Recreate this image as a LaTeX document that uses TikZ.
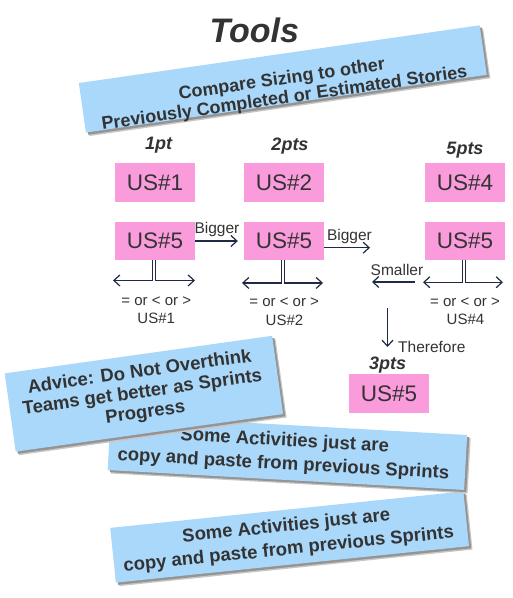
\documentclass[tikz,border=0pt]{standalone}
\usepackage{fontspec}
\setmainfont{Liberation Sans}
\usetikzlibrary{arrows.meta}
\definecolor{txt}{HTML}{333333}
\definecolor{pinkc}{HTML}{FA9BDC}
\definecolor{bluec}{HTML}{AAD8FA}
\definecolor{arrc}{HTML}{1F2A44}
\begin{document}
\begin{tikzpicture}[x=1pt,y=-1pt,
  usbox/.style={fill=pinkc, minimum width=80pt, minimum height=38.5pt, inner sep=0pt, text=txt, font=\fontsize{22.5}{24}\selectfont},
  ptlabel/.style={anchor=base, text=txt, font=\fontsize{18}{18}\selectfont\bfseries\itshape, inner sep=0pt},
  smalltext/.style={anchor=base, text=txt, font=\fontsize{15}{15}\selectfont, inner sep=0pt},
  bluebox/.style={fill=bluec, inner sep=0pt},
  shadowa/.style={fill=black!22, inner sep=0pt},
  shadowb/.style={fill=black!42, inner sep=0pt},
  bluetext/.style={text=txt, align=center, inner sep=0pt},
  arr/.style={draw=arrc, line width=1.2pt, -{Straight Barb[length=6pt,width=11pt]}},
  ln/.style={draw=arrc, line width=1.2pt},
]
\useasboundingbox[fill=white] (0,0) rectangle (513,598);

% Title
\node[anchor=base, text=txt, font=\fontsize{34}{34}\selectfont\bfseries\itshape, inner sep=0pt] (title) at (254.3,42.3) {Tools};

% Box 1
\node[shadowa, rotate=8.2, minimum width=405pt, minimum height=50pt] (s1a) at (286.3,82.4) {};
\node[shadowb, rotate=8.2, minimum width=405pt, minimum height=50pt] (s1b) at (285,81.1) {};
\node[bluebox, rotate=8.2, minimum width=405pt, minimum height=50pt] (b1) at (282.8,78.9) {};
\node[bluetext, rotate=8.2, font=\fontsize{18}{19}\selectfont\bfseries] (t1) at (283.2,89.5) {Compare Sizing to other\\Previously Completed or Estimated Stories};

% point labels
\node[ptlabel] (p1) at (158.7,149.3) {1pt};
\node[ptlabel] (p2) at (290,150) {2pts};
\node[ptlabel] (p4) at (465,154) {5pts};

% story boxes
\node[usbox] (u1) at (155,182.5) {US\#1};
\node[usbox] (u2) at (284,182.5) {US\#2};
\node[usbox] (u4) at (465,182.5) {US\#4};
\node[usbox] (u5a) at (155,241) {US\#5};
\node[usbox] (u5b) at (284,241) {US\#5};
\node[usbox] (u5c) at (465,241) {US\#5};

% bigger arrows
\node[smalltext, font=\fontsize{15.5}{15.5}\selectfont] (lb1) at (217,233.3) {Bigger};
\draw[arr] (u5a.east) -- ([xshift=-6pt]u5b.west);
\node[smalltext, font=\fontsize{15.5}{15.5}\selectfont] (lb2) at (349.5,240.7) {Bigger};
\coordinate (b2e) at (370,247.7);
\draw[arr] (u5b.east |- b2e) -- (b2e);
\node[smalltext, font=\fontsize{15.5}{15.5}\selectfont] (lsm) at (397,275) {Smaller};
\coordinate (sm1) at (415,282);
\coordinate (sm2) at (372,282);
\draw[arr] (sm1) -- (sm2);

% brackets
\draw[arr] ([xshift=-2.6pt]u5a.south) -- ++(0,20) -- ++(-39.4,0);
\draw[arr] ([xshift=0.6pt]u5a.south) -- ++(0,20) -- ++(39.4,0);
\draw[arr] ([xshift=-2.6pt]u5b.south) -- ++(0,22.5) -- ++(-39.4,0);
\draw[arr] ([xshift=0.6pt]u5b.south) -- ++(0,22.5) -- ++(38.4,0);
\draw[arr] ([xshift=-2.6pt]u5c.south) -- ++(0,21.8) -- ++(-39.4,0);
\draw[arr] ([xshift=0.6pt]u5c.south) -- ++(0,21.8) -- ++(37.4,0);

% comparison texts
\node[smalltext] (c1) at (156.3,305) {= or < or >};
\node[smalltext] (c1b) at (156.2,323.3) {US\#1};
\node[smalltext] (c2) at (284.2,306.7) {= or < or >};
\node[smalltext] (c2b) at (284.5,325) {US\#2};
\node[smalltext] (c4) at (465,306) {= or < or >};
\node[smalltext] (c4b) at (465.5,324.3) {US\#4};

% therefore
\coordinate (th1) at (387.5,308);
\coordinate (th2) at (387.5,347);
\draw[arr] (th1) -- (th2);
\node[smalltext, anchor=base west, font=\fontsize{15.5}{15.5}\selectfont] (lth) at (398,352.7) {Therefore};
\node[ptlabel] (p3) at (387.7,369) {3pts};
\node[usbox] (u5f) at (389,393.3) {US\#5};

% Box 4 (bottom)
\node[shadowa, rotate=5.9, minimum width=355pt, minimum height=55pt] (s4a) at (293.1,540.5) {};
\node[shadowb, rotate=5.9, minimum width=355pt, minimum height=55pt] (s4b) at (291.8,539.2) {};
\node[bluebox, rotate=5.9, minimum width=355pt, minimum height=55pt] (b4) at (289.6,537) {};
\node[bluetext, rotate=5.9, font=\fontsize{18.5}{23.5}\selectfont\bfseries] (t4) at (287.5,538.3) {Some Activities just are\\copy and paste from previous Sprints};

% Box 3
\node[shadowa, rotate=-3.2, minimum width=357pt, minimum height=55pt] (s3a) at (290.9,456) {};
\node[shadowb, rotate=-3.2, minimum width=357pt, minimum height=55pt] (s3b) at (289.6,454.7) {};
\node[bluebox, rotate=-3.2, minimum width=357pt, minimum height=55pt] (b3) at (287.4,452.5) {};
\node[bluetext, rotate=-3.2, font=\fontsize{18.5}{23.5}\selectfont\bfseries] (t3) at (284,453) {Some Activities just are\\copy and paste from previous Sprints};

% Advice box
\node[shadowa, rotate=8, minimum width=270pt, minimum height=79pt] (s2a) at (147.4,397.2) {};
\node[shadowb, rotate=8, minimum width=270pt, minimum height=79pt] (s2b) at (146.1,395.9) {};
\node[bluebox, rotate=8, minimum width=270pt, minimum height=79pt] (b2) at (143.9,393.7) {};
\node[bluetext, rotate=8, font=\fontsize{18.5}{20.5}\selectfont\bfseries] (t2) at (142.5,393) {Advice: Do Not Overthink\\Teams get better as Sprints\\Progress};

\end{tikzpicture}
\end{document}
